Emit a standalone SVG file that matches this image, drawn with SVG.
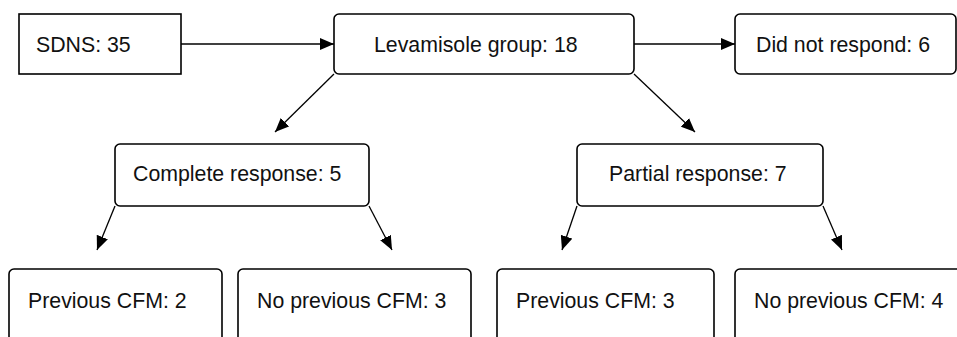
<svg xmlns="http://www.w3.org/2000/svg" width="957" height="337" viewBox="0 0 957 337">
<style>
.box{fill:#fff;stroke:#000;stroke-width:1.6}
.t{font-family:"Liberation Sans",Arial,sans-serif;font-size:21.3px;fill:#111}
.c{stroke:#000;stroke-width:1.3;fill:none;marker-end:url(#ah)}
</style>
<defs>
<marker id="ah" viewBox="0 0 14 12" refX="14" refY="6" markerWidth="14" markerHeight="12" markerUnits="userSpaceOnUse" orient="auto">
<path d="M0,0 L14,6 L0,12 Z" fill="#000"/>
</marker>
</defs>
<rect width="957" height="337" fill="#fff"/>
<g id="connectors">
<line class="c" x1="181" y1="44" x2="334" y2="44"/>
<line class="c" x1="634" y1="44" x2="735" y2="44"/>
<line class="c" x1="334" y1="74" x2="275" y2="132"/>
<line class="c" x1="634" y1="74" x2="695" y2="132"/>
<line class="c" x1="115" y1="206" x2="97" y2="250"/>
<line class="c" x1="369" y1="206" x2="392" y2="250"/>
<line class="c" x1="577" y1="206" x2="562" y2="250"/>
<line class="c" x1="823" y1="206" x2="842" y2="250"/>
</g>
<g id="sdns"><rect class="box" x="19" y="14" width="162" height="60"/><text class="t" x="36" y="52">SDNS: 35</text></g>
<g id="levamisole"><rect class="box" x="334" y="14" width="300" height="60" rx="5"/><text class="t" x="374" y="52">Levamisole group: 18</text></g>
<g id="didnot"><rect class="box" x="735" y="14" width="221" height="60" rx="5"/><text class="t" x="756" y="52">Did not respond: 6</text></g>
<g id="complete"><rect class="box" x="115" y="144" width="254" height="62" rx="5"/><text class="t" x="133" y="181">Complete response: 5</text></g>
<g id="partial"><rect class="box" x="577" y="144" width="246" height="62" rx="5"/><text class="t" x="609" y="181">Partial response: 7</text></g>
<g id="prev2"><rect class="box" x="9" y="269" width="213" height="90" rx="5"/><text class="t" x="28" y="308">Previous CFM: 2</text></g>
<g id="noprev3"><rect class="box" x="238" y="269" width="233" height="90" rx="5"/><text class="t" x="257" y="308">No previous CFM: 3</text></g>
<g id="prev3"><rect class="box" x="497" y="269" width="217" height="90" rx="5"/><text class="t" x="516" y="308">Previous CFM: 3</text></g>
<g id="noprev4"><rect class="box" x="735" y="269" width="240" height="90" rx="5"/><text class="t" x="754" y="308">No previous CFM: 4</text></g>
</svg>
